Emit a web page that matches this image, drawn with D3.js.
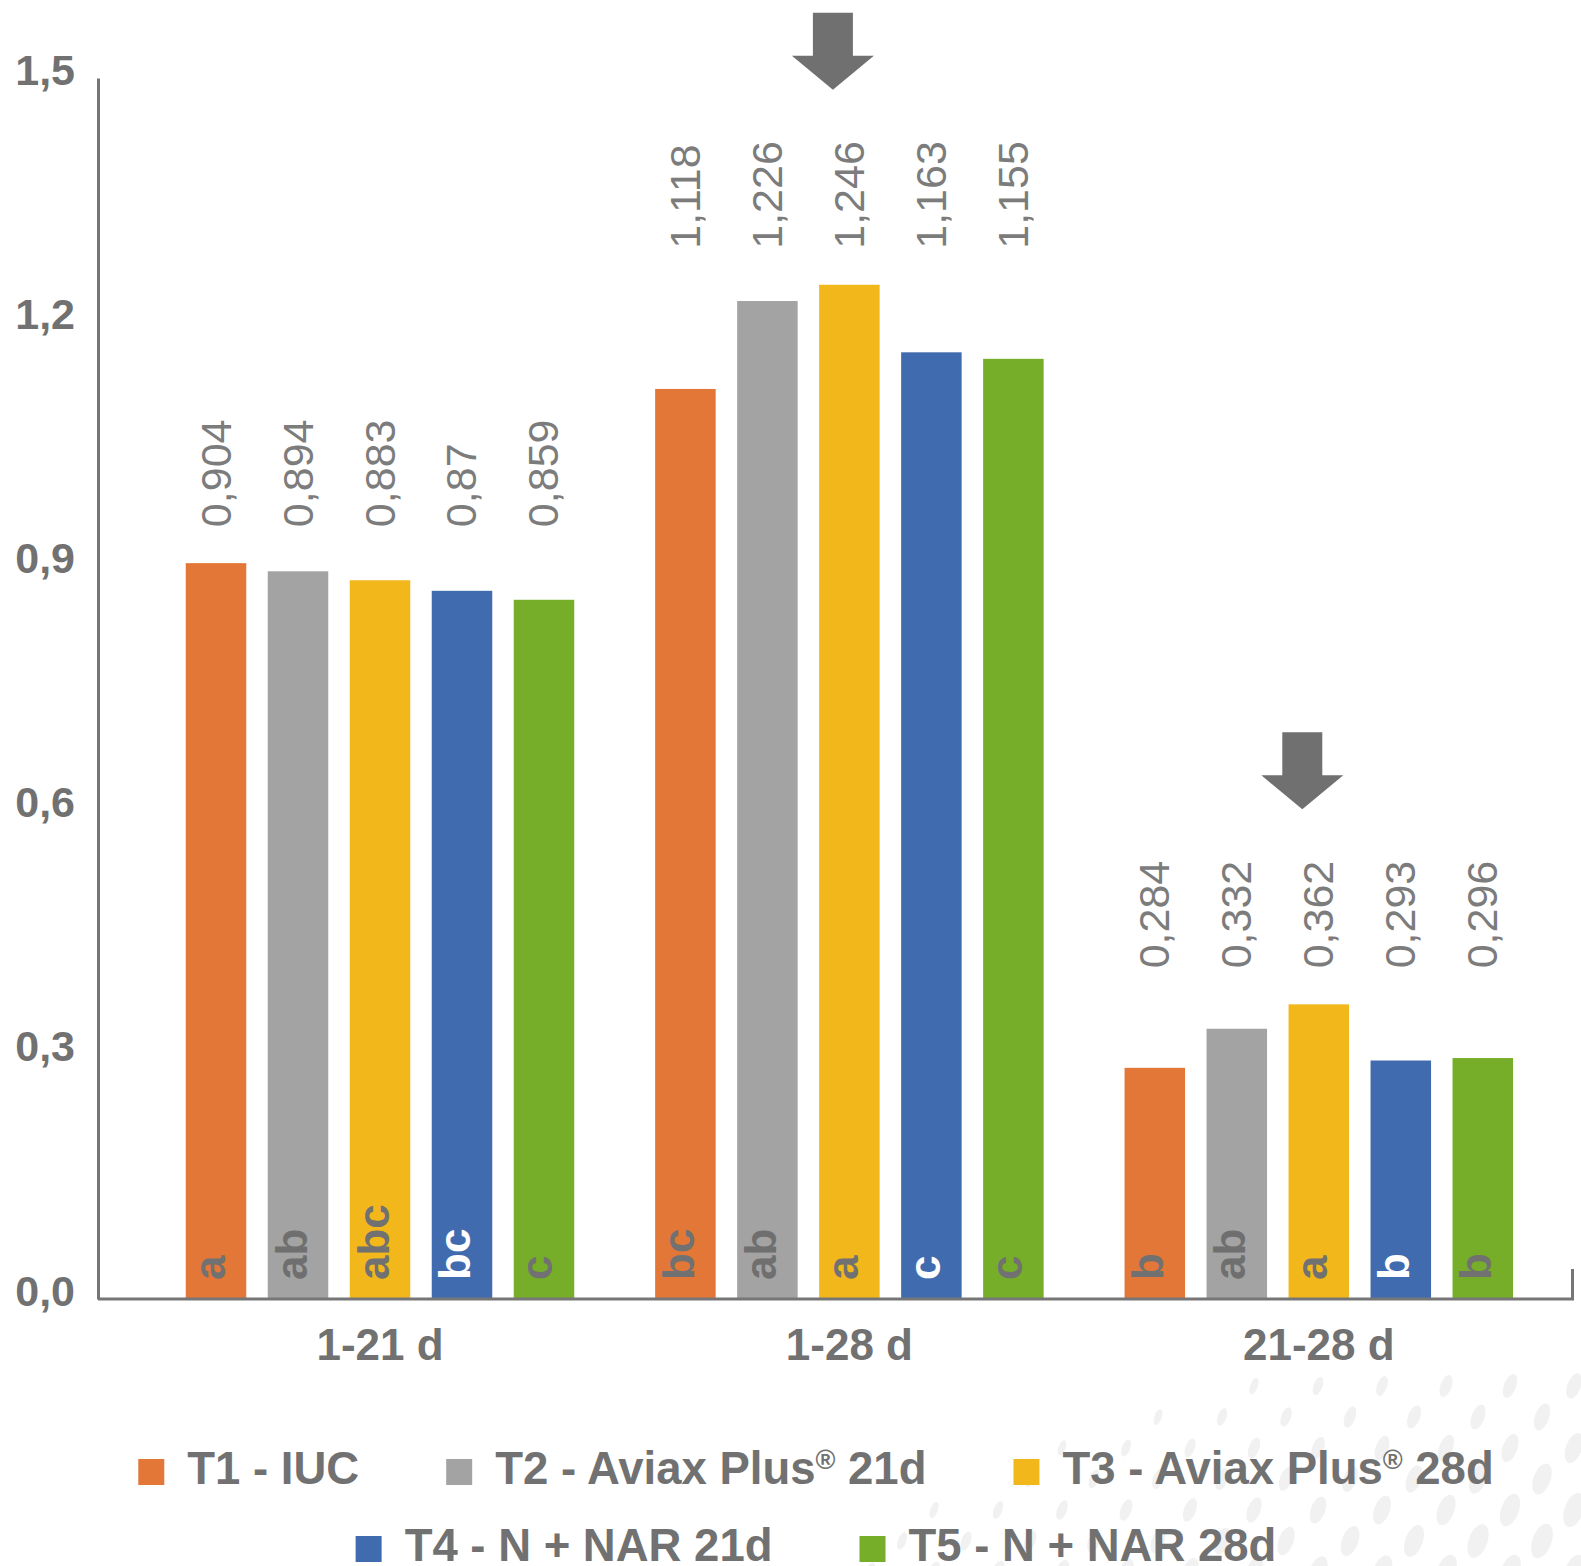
<!DOCTYPE html>
<html>
<head>
<meta charset="utf-8">
<script src="https://cdn.jsdelivr.net/npm/d3@7"></script>
<style>
  html, body { margin: 0; padding: 0; background: #ffffff; }
  svg { display: block; }
  text { font-family: "Liberation Sans", Arial, Helvetica, sans-serif; }
</style>
</head>
<body>
<svg id="chart" width="1581" height="1566"></svg>
<script>
// ---- data ----
const categories = ["1-21 d", "1-28 d", "21-28 d"];
const seriesNames = ["T1 - IUC", "T2 - Aviax Plus® 21d", "T3 - Aviax Plus® 28d", "T4 - N + NAR 21d", "T5 - N + NAR 28d"];
const seriesColors = ["#e27737", "#a3a3a3", "#f2b81b", "#416baf", "#76ae29"];
const letterColors = ["#717171", "#6f6f6f", "#717171", "#ffffff", "#717171"];

const t1Values = [0.904, 1.118, 0.284];
const t2Values = [0.894, 1.226, 0.332];
const t3Values = [0.883, 1.246, 0.362];
const t4Values = [0.870, 1.163, 0.293];
const t5Values = [0.859, 1.155, 0.296];

const t1Letters = ["a", "bc", "b"];
const t2Letters = ["ab", "ab", "ab"];
const t3Letters = ["abc", "a", "a"];
const t4Letters = ["bc", "c", "b"];
const t5Letters = ["c", "c", "b"];

const yTicks = [0, 0.3, 0.6, 0.9, 1.2, 1.5];
const arrowSeries = "T3 - Aviax Plus® 28d";
const arrowCategories = ["1-28 d", "21-28 d"];

const seriesValues = [t1Values, t2Values, t3Values, t4Values, t5Values];
const seriesLetters = [t1Letters, t2Letters, t3Letters, t4Letters, t5Letters];

const rows = [];
categories.forEach((c, ci) => {
  seriesNames.forEach((s, si) => {
    rows.push({ cat: c, ser: s, si, value: seriesValues[si][ci], letter: seriesLetters[si][ci] });
  });
});

// comma decimal separator
const locale = d3.formatLocale({ decimal: ",", thousands: ".", grouping: [3], currency: ["", ""] });
const tickFmt = locale.format(".1f");
const valueFmt = v => String(v).replace(".", ",");

// ---- layout ----
const svg = d3.select("#chart");
const axisX = 98, axisRight = 1574, baseY = 1299;
const gray = "#767676";

const y = d3.scaleLinear().domain([0, 1.5]).range([baseY, 78]);
const x0 = d3.scaleBand().domain(categories).range([145.3, 1553.5]);
const groupSpan = 388.5;
const x1 = d3.scaleBand().domain(seriesNames).range([0, groupSpan]).paddingInner(0.262);
const groupPad = (x0.bandwidth() - groupSpan) / 2;
const barX = d => x0(d.cat) + groupPad + x1(d.ser);
const barCx = d => barX(d) + x1.bandwidth() / 2;

// ---- faint decorative dot pattern (lower right) ----
const deco = svg.append("g").attr("class", "deco");
const dots = [];
for (let r = 0; r < 8; r++) {
  const yy = 1386 + r * 31;
  for (let c = 0; c < 14; c++) {
    const xx = 870 + c * 64 + (r % 2) * 32;
    const d = 0.371 * (xx - 1230) + 0.928 * (yy - 1380);
    if (d < 0 || xx > 1590) continue;
    const s = Math.max(0, Math.min(1, d / 250));
    dots.push({ x: xx, y: yy, s });
  }
}
deco.selectAll("ellipse").data(dots).join("ellipse")
  .attr("transform", d => `translate(${d.x},${d.y}) rotate(20)`)
  .attr("rx", d => 3.5 + 6 * d.s)
  .attr("ry", d => 8 + 10 * d.s)
  .attr("fill", "#f1f1f1");

// ---- bars ----
svg.append("g").selectAll("rect").data(rows).join("rect")
  .attr("x", barX)
  .attr("y", d => y(d.value))
  .attr("width", x1.bandwidth())
  .attr("height", d => y(0) - y(d.value))
  .attr("fill", d => seriesColors[d.si]);

// ---- y axis ----
const yAxis = svg.append("g")
  .attr("transform", `translate(${axisX},0)`)
  .call(d3.axisLeft(y).tickValues(yTicks).tickSize(0).tickSizeOuter(0).tickPadding(23).tickFormat(tickFmt));
yAxis.select(".domain").attr("stroke", gray).attr("stroke-width", 3);
yAxis.selectAll("text")
  .attr("dy", "6px")
  .attr("fill", "#717171")
  .style("font-family", "'Liberation Sans', Arial, sans-serif")
  .style("font-weight", "bold")
  .style("font-size", "43px");

// ---- x axis line with end tick ----
svg.append("path")
  .attr("d", d3.line()([[axisX, baseY], [axisRight - 1.5, baseY], [axisRight - 1.5, baseY - 30]]))
  .attr("fill", "none")
  .attr("stroke", gray)
  .attr("stroke-width", 3);

// category labels
const xAxis = svg.append("g")
  .attr("transform", `translate(0,${baseY})`)
  .call(d3.axisBottom(x0).tickSize(0).tickPadding(0));
xAxis.select(".domain").remove();
xAxis.selectAll("text")
  .attr("y", 61)
  .attr("dy", "0")
  .attr("fill", "#717171")
  .style("font-family", "'Liberation Sans', Arial, sans-serif")
  .style("font-weight", "bold")
  .style("font-size", "44px");

// ---- value labels (vertical, aligned per group) ----
const groupMax = {};
categories.forEach((c, ci) => { groupMax[c] = d3.max(seriesValues, v => v[ci]); });

svg.append("g").selectAll("text").data(rows).join("text")
  .attr("transform", d => `translate(${barCx(d)},${y(groupMax[d.cat]) - 36}) rotate(-90)`)
  .attr("y", 14.5)
  .attr("text-anchor", "start")
  .attr("fill", "#7c7c7c")
  .style("font-size", "43px")
  .text(d => valueFmt(d.value));

// ---- significance letters inside bars ----
svg.append("g").selectAll("text").data(rows).join("text")
  .attr("transform", d => `translate(${barCx(d)},${baseY - 19}) rotate(-90)`)
  .attr("y", 8.5)
  .attr("text-anchor", "start")
  .attr("fill", d => letterColors[d.si])
  .style("font-weight", "bold")
  .style("font-size", "44px")
  .text(d => d.letter);

// ---- arrows over highlighted bars ----
const arrowRows = rows.filter(d => d.ser === arrowSeries && arrowCategories.includes(d.cat));
svg.append("g").selectAll("path").data(arrowRows).join("path")
  .attr("d", d => {
    const tx = barCx(d) - 16.5;
    const ty = y(groupMax[d.cat]) - 195;
    return d3.line()([
      [tx - 20, ty - 77], [tx + 20, ty - 77], [tx + 20, ty - 34], [tx + 41, ty - 34],
      [tx, ty], [tx - 41, ty - 34], [tx - 20, ty - 34]
    ]) + "Z";
  })
  .attr("fill", "#707070");

// ---- legend ----
const legendRows = [seriesNames.slice(0, 3), seriesNames.slice(3)];
const legendBaselines = [1484, 1561];
const legendCenter = 816;
const sq = 26, sqGap = 23, itemGap = 87;
const legend = svg.append("g");

legendRows.forEach((names, ri) => {
  const row = legend.append("g");
  const items = names.map(name => {
    const g = row.append("g");
    const si = seriesNames.indexOf(name);
    g.append("rect")
      .attr("x", 0).attr("y", legendBaselines[ri] - sq + 1)
      .attr("width", sq).attr("height", sq)
      .attr("fill", seriesColors[si]);
    const t = g.append("text")
      .attr("x", sq + sqGap).attr("y", legendBaselines[ri])
      .attr("fill", "#717171")
      .style("font-weight", "bold")
      .style("font-size", "45.5px");
    const parts = name.split("®");
    t.append("tspan").text(parts[0]);
    if (parts.length > 1) {
      t.append("tspan").attr("dy", "-15px").style("font-size", "27px").text("®");
      t.append("tspan").attr("dy", "15px").text(parts[1]);
    }
    const w = sq + sqGap + t.node().getComputedTextLength();
    return { g, w };
  });
  const total = d3.sum(items, d => d.w) + itemGap * (items.length - 1);
  let cx = legendCenter - total / 2;
  items.forEach(it => {
    it.g.attr("transform", `translate(${cx},0)`);
    cx += it.w + itemGap;
  });
});
</script>
</body>
</html>
